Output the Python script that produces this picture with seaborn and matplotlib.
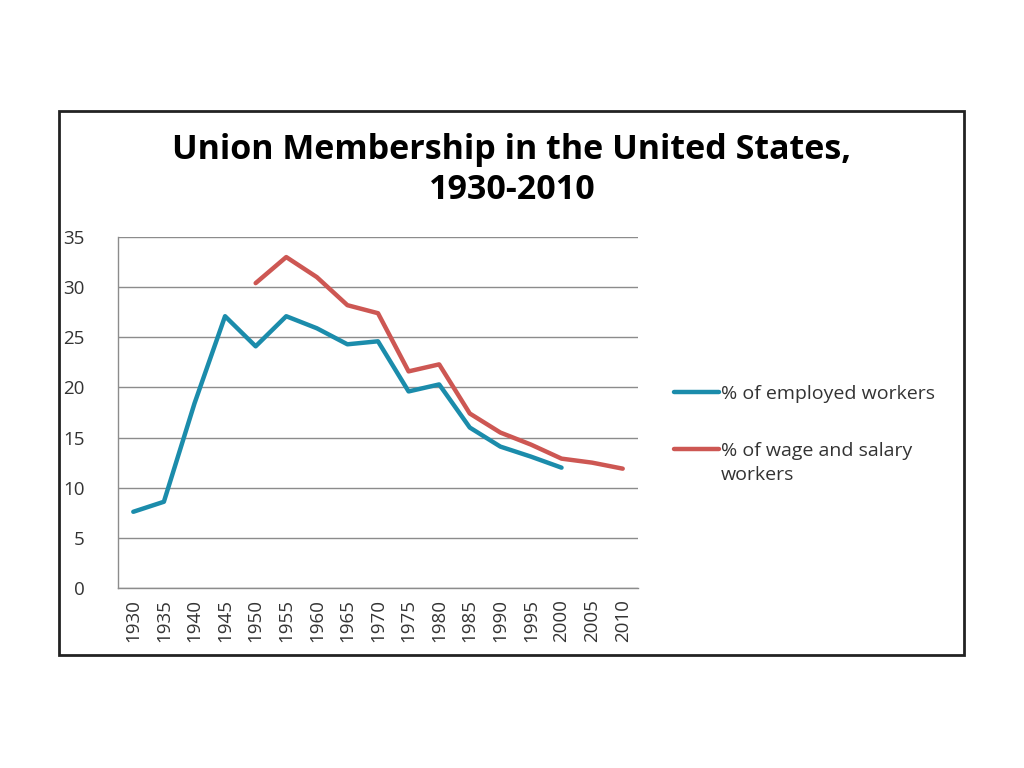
import numpy as np
import pandas as pd
import matplotlib.pyplot as plt
import seaborn as sns
from matplotlib.patches import Rectangle

years = [1930, 1935, 1940, 1945, 1950, 1955, 1960, 1965, 1970, 1975, 1980,
         1985, 1990, 1995, 2000, 2005, 2010]
employed = [7.6, 8.6, 18.4, 27.1, 24.1, 27.1, 25.9, 24.3, 24.6, 19.6, 20.3,
            16.0, 14.1, 13.1, 12.0, np.nan, np.nan]
wage_salary = [np.nan, np.nan, np.nan, np.nan, 30.4, 33.0, 31.0, 28.2, 27.4,
               21.6, 22.3, 17.4, 15.5, 14.3, 12.9, 12.5, 11.9]
series_names = ['% of employed workers', '% of wage and salary']

df = pd.DataFrame({'year': years,
                   series_names[0]: employed,
                   series_names[1]: wage_salary})
long = df.melt(id_vars='year', var_name='series', value_name='pct').dropna()

sns.set_style('white')
plt.rcParams['font.family'] = ['Open Sans', 'DejaVu Sans']

fig = plt.figure(figsize=(10.24, 7.68), dpi=100)
ax = fig.add_axes([118 / 1024, 1 - 588 / 768, 520 / 1024, 351 / 768])

sns.lineplot(data=long, x='year', y='pct', hue='series',
             palette=['#1B8CAB', '#CD5753'], linewidth=3.2, ax=ax)

ax.set_xlim(1927.5, 2012.5)
ax.set_ylim(0, 35)
ax.set_yticks(range(0, 36, 5))
ax.set_xticks(years)
ax.set_xticklabels([str(y) for y in years], rotation=90)
ax.tick_params(axis='both', labelsize=13.5, colors='#333333', length=0)
ax.tick_params(axis='y', pad=24)
ax.tick_params(axis='x', pad=8)
ax.grid(axis='y', color='#8c8c8c', linewidth=1)
ax.set_axisbelow(True)
for s in ['top', 'right']:
    ax.spines[s].set_visible(False)
for s in ['left', 'bottom']:
    ax.spines[s].set_color('#8c8c8c')
    ax.spines[s].set_linewidth(1)
ax.set_xlabel('')
ax.set_ylabel('')

leg = ax.legend(loc='upper left', bbox_to_anchor=(1.055, 0.6), frameon=False,
                fontsize=14, handlelength=2.3, handletextpad=0.1,
                labelspacing=2.0, borderaxespad=0)
for t in leg.get_texts():
    t.set_color('#333333')
for l in leg.get_lines():
    l.set_linewidth(3.2)

# second line of the wrapped legend label
fig.canvas.draw()
bb = leg.get_texts()[1].get_window_extent().transformed(fig.transFigure.inverted())
fig.text(bb.x0, bb.y0 - 24 / 768, 'workers', ha='left', va='bottom',
         fontsize=14, color='#333333')

fig.text(0.5, 1 - 150 / 768, 'Union Membership in the United States,',
         ha='center', va='center', fontsize=24.5, fontweight='bold', color='black')
fig.text(0.5, 1 - 190 / 768, '1930-2010',
         ha='center', va='center', fontsize=24.5, fontweight='bold', color='black')

fig.patches.append(Rectangle((59 / 1024, 1 - 655 / 768), 905 / 1024, 544 / 768,
                             transform=fig.transFigure, fill=False,
                             edgecolor='#222222', linewidth=2))

fig.savefig('out.png', dpi=100)
